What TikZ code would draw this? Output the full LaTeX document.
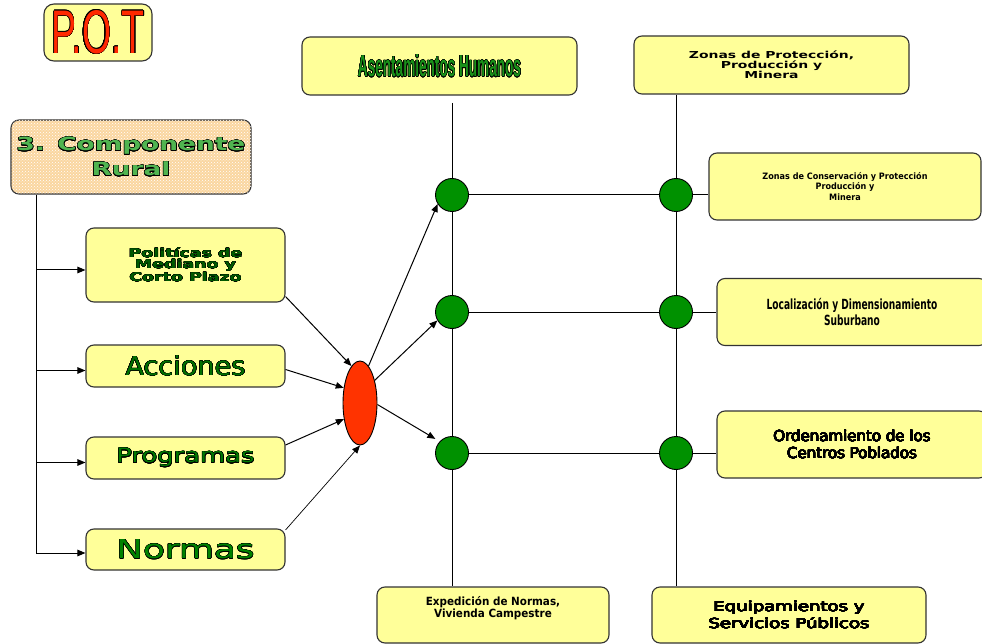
\documentclass[tikz,border=0pt]{standalone}
\usepackage{fontspec}
\usepackage{contour}
\usetikzlibrary{arrows.meta,shapes.geometric,patterns,backgrounds,calc}
\setmainfont{DejaVu Sans}
\newfontfamily\libsans{Liberation Sans}
\newfontfamily\wideb{DejaVu Sans}[FakeStretch=1.45]
\newfontfamily\narb{DejaVu Sans}[FakeStretch=0.92]
\newfontfamily\condb{DejaVu Sans}[FakeStretch=0.65]
\newfontfamily\wider{DejaVu Sans}[FakeStretch=1.32]
\contournumber{24}
% coloured text with a black outline
\newcommand\outlined[3]{\textcolor{#1}{\contourlength{#2}\contour{black}{#3}}}

\definecolor{boxyellow}{RGB}{255,255,153}
\definecolor{peach}{RGB}{250,214,160}
\definecolor{dotgreen}{RGB}{0,145,0}
\definecolor{ellred}{RGB}{255,51,0}
\definecolor{potred}{RGB}{255,40,0}
\definecolor{accgreen}{RGB}{0,110,0}
\definecolor{proggreen}{RGB}{0,120,0}
\definecolor{normgreen}{RGB}{0,130,0}
\definecolor{asengreen}{RGB}{25,145,25}
\definecolor{compgreen}{RGB}{80,180,80}
\definecolor{polgreen}{RGB}{0,90,0}

\begin{document}
\begin{tikzpicture}[x=1pt,y=-1pt,
  ybox/.style={draw=black!80, line width=1.1pt, fill=boxyellow, rounded corners=8pt,
    inner sep=0pt, align=center},
  dotnode/.style={circle, draw=black, line width=0.9pt, fill=dotgreen,
    minimum size=33pt, inner sep=0pt},
  link/.style={line width=1pt, black},
  arr/.style={link, -{Triangle[length=8pt,width=6.5pt]}}]
\useasboundingbox (0,0) rectangle (982,644);
\clip (0,0) rectangle (982,644);

% title and component box
\node[ybox, rounded corners=10pt, minimum width=108pt, minimum height=57pt] (pot) at (98,32.5)
  {\outlined{potred}{0.5pt}{\resizebox{93pt}{43pt}{\libsans P.O.T}}};
\node[ybox, fill=peach, minimum width=240pt, minimum height=74pt,
  postaction={pattern=crosshatch dots, pattern color=white},
  font=\wideb\bfseries\fontsize{18.2}{25}\selectfont] (comp) at (131,157)
  {\outlined{compgreen}{0.55pt}{3. Componente}\\ \outlined{compgreen}{0.55pt}{Rural}};

% left column
\node[ybox, minimum width=199pt, minimum height=74pt,
  font=\wideb\bfseries\fontsize{12}{11}\selectfont] (pol) at (185.5,265)
  {\outlined{polgreen}{0.25pt}{Politícas de}\\ \outlined{polgreen}{0.25pt}{Mediano y}\\
   \outlined{polgreen}{0.25pt}{Corto Plazo}};
\node[ybox, minimum width=199pt, minimum height=42pt] (acc) at (185.5,366)
  {\outlined{accgreen}{0.45pt}{\resizebox{120pt}{19.8pt}{Acciones}}};
\node[ybox, minimum width=199pt, minimum height=42pt] (prog) at (185.5,458)
  {\outlined{proggreen}{0.45pt}{\resizebox{138pt}{14.5pt}{Programas}}};
\node[ybox, minimum width=199pt, minimum height=41pt] (norm) at (185.5,549.5)
  {\outlined{normgreen}{0.45pt}{\resizebox{138pt}{19pt}{Normas}}};

% top boxes
\node[ybox, minimum width=275pt, minimum height=58pt] (asen) at (439.5,66)
  {\outlined{asengreen}{0.45pt}{\resizebox{163pt}{22pt}{\libsans\bfseries Asentamientos Humanos}}};
\node[ybox, minimum width=275pt, minimum height=58pt,
  font=\wideb\bfseries\fontsize{9.6}{8.5}\selectfont] (zprot) at (771.5,65)
  {Zonas de Protección,\\ Producción y\\ Minera};

% right boxes
\node[ybox, minimum width=272pt, minimum height=67pt,
  font=\narb\bfseries\fontsize{8.8}{10.5}\selectfont] (zcons) at (845,186.5)
  {Zonas de Conservación y Protección\\ Producción y\\ Minera};
\node[ybox, minimum width=270pt, minimum height=67pt,
  font=\condb\bfseries\fontsize{14}{16}\selectfont] (loc) at (852,312)
  {Localización y Dimensionamiento\\ Suburbano};
\node[ybox, minimum width=270pt, minimum height=67pt,
  font=\fontsize{15}{17}\selectfont] (orden) at (852,444.5)
  {\outlined{black}{0.3pt}{Ordenamiento de los}\\ \outlined{black}{0.3pt}{Centros Poblados}};

% bottom boxes
\node[ybox, minimum width=232pt, minimum height=56pt,
  font=\narb\bfseries\fontsize{11.3}{12}\selectfont] (exped) at (493,615)
  {Expedición de Normas,\\ Vivienda Campestre\\[4pt]};
\node[ybox, minimum width=274pt, minimum height=56pt,
  font=\wider\fontsize{13.7}{17}\selectfont] (equip) at (789,615)
  {\outlined{black}{0.3pt}{Equipamientos y}\\ \outlined{black}{0.3pt}{Servicios Públicos}};

% hub and junctions
\node[ellipse, draw=black, line width=0.9pt, fill=ellred, minimum width=34pt,
  minimum height=84pt, inner sep=0pt] (ell) at (360,403) {};
\node[dotnode] (c1) at (452,195) {};
\node[dotnode] (c2) at (452,312) {};
\node[dotnode] (c3) at (452,453) {};
\node[dotnode] (c4) at (676,195) {};
\node[dotnode] (c5) at (676,312) {};
\node[dotnode] (c6) at (676,453) {};

% grid lines behind the junctions
\begin{scope}[on background layer]
  \coordinate (vtop) at (452,103);
  \draw[link] (vtop) -- (exped.north -| vtop);
  \draw[link] (zprot.south -| c4) -- (equip.north -| c4);
  \draw[link] (c1) -- (c4);
  \draw[link] (c2) -- (c5);
  \draw[link] (c3) -- (c6);
  \draw[link] (c4) -- (zcons.west |- c4);
  \draw[link] (c5) -- (loc.west |- c5);
  \draw[link] (c6) -- (orden.west |- c6);
\end{scope}

% tree from the component box
\coordinate (t1) at (36,270);
\coordinate (t2) at (36,370.5);
\coordinate (t3) at (36,462.5);
\coordinate (t4) at (36,553);
\draw[link] (comp.south -| t1) -- (t4);
\draw[arr] (t1) -- (pol.west |- t1);
\draw[arr] (t2) -- (acc.west |- t2);
\draw[arr] (t3) -- (prog.west |- t3);
\draw[arr] (t4) -- (norm.west |- t4);

% inputs to the hub
\draw[arr] ($(pol.south east)+(0,-6)$) -- (ell.103);
\draw[arr] ($(acc.east)+(0,3.5)$) -- (ell.137);
\draw[arr] ($(prog.east)+(0,-13)$) -- (ell.225);
\draw[arr, line width=0.7pt] ($(norm.north east)+(0,1.5)$) -- (ell.270);

% outputs from the hub
\draw[arr] (ell.77) -- (c1.212);
\draw[arr] (ell.57) -- (c2.210);
\draw[arr, shorten >=5pt] (ell.355) -- (c3.137);
\end{tikzpicture}
\end{document}
